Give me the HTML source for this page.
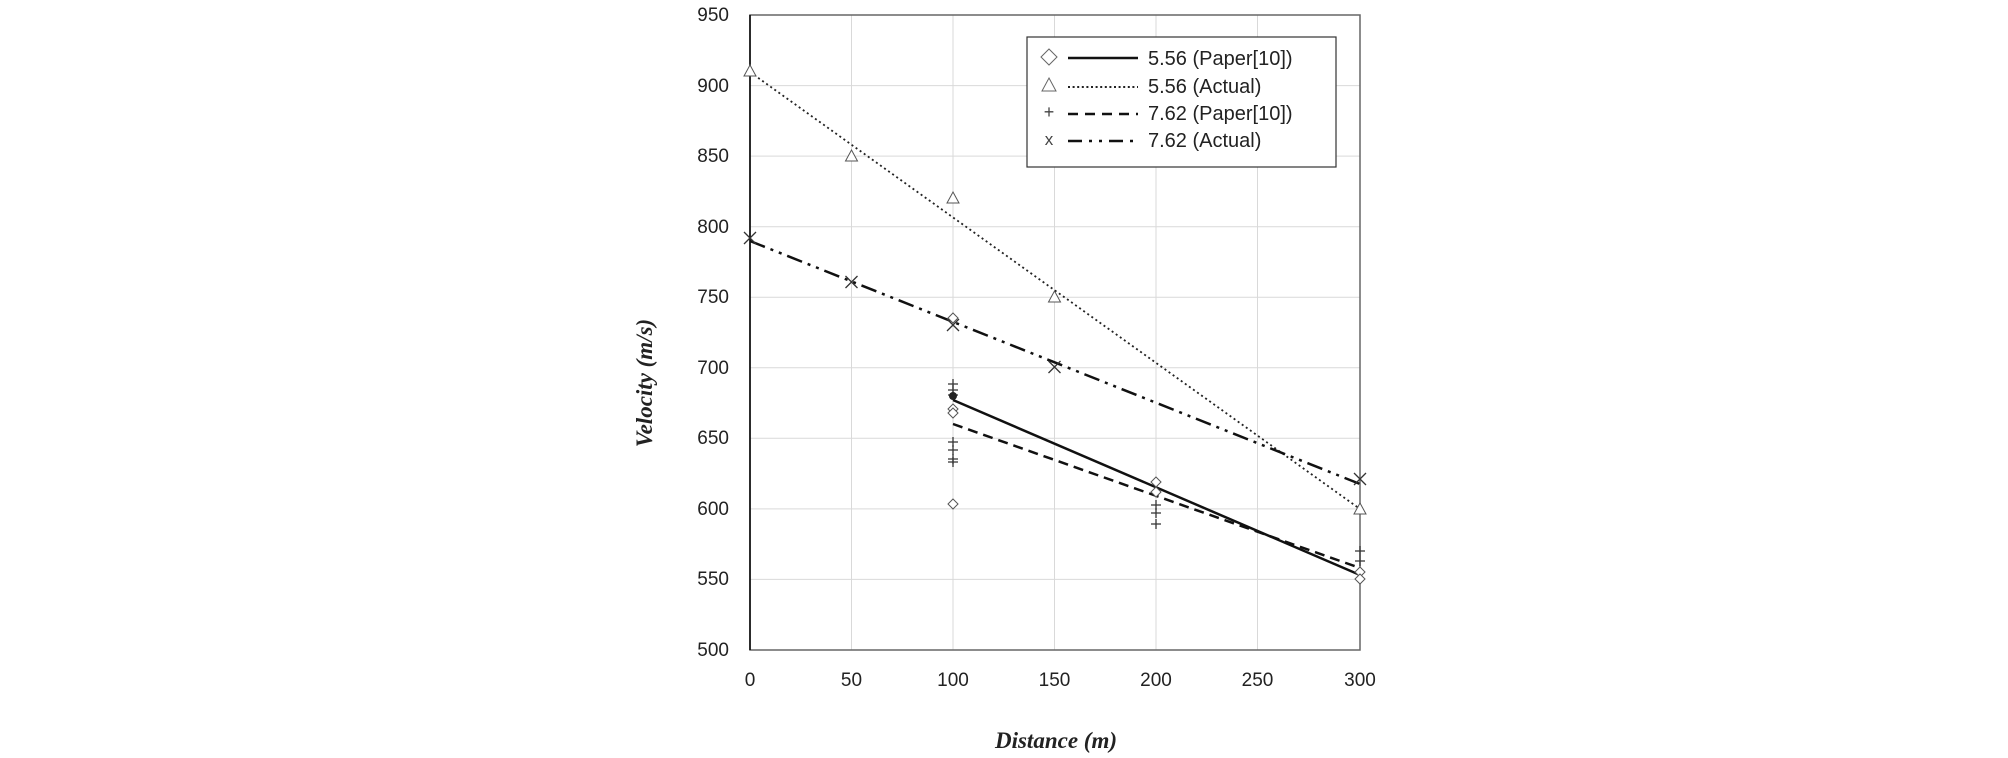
<!DOCTYPE html>
<html><head><meta charset="utf-8"><style>
html,body{margin:0;padding:0;background:#fff;}
svg{display:block;}
text{font-family:"Liberation Sans",sans-serif;fill:#222;}
</style></head><body>
<svg width="2008" height="758" viewBox="0 0 2008 758" xmlns="http://www.w3.org/2000/svg">
<defs>
<g id="dia"><path d="M0,-5 L5,0 L0,5 L-5,0 Z" fill="#fff" stroke="#555" stroke-width="1"/></g>
<g id="tri"><path d="M0,-6 L6,5 L-6,5 Z" fill="#fff" stroke="#555" stroke-width="1"/></g>
<g id="pl"><path d="M-5,0 H5 M0,-5 V5" stroke="#333" stroke-width="1.3"/></g>
<g id="xx"><path d="M-6,-6 L6,6 M-6,6 L6,-6" stroke="#333" stroke-width="1.3"/></g>
</defs>
<g stroke="#d9d9d9" stroke-width="1">
<line x1="851.5" y1="15" x2="851.5" y2="650"/><line x1="953" y1="15" x2="953" y2="650"/>
<line x1="1054.5" y1="15" x2="1054.5" y2="650"/><line x1="1156" y1="15" x2="1156" y2="650"/>
<line x1="1257.5" y1="15" x2="1257.5" y2="650"/>
<line x1="750" y1="85.6" x2="1360" y2="85.6"/><line x1="750" y1="156.1" x2="1360" y2="156.1"/>
<line x1="750" y1="226.7" x2="1360" y2="226.7"/><line x1="750" y1="297.2" x2="1360" y2="297.2"/>
<line x1="750" y1="367.8" x2="1360" y2="367.8"/><line x1="750" y1="438.3" x2="1360" y2="438.3"/>
<line x1="750" y1="508.9" x2="1360" y2="508.9"/><line x1="750" y1="579.4" x2="1360" y2="579.4"/>
</g>
<rect x="750" y="15" width="610" height="635" fill="none" stroke="#666" stroke-width="1.5"/>
<line x1="750" y1="15" x2="750" y2="650" stroke="#000" stroke-width="1.5"/>
<g font-size="19" text-anchor="end">
<text x="729" y="21">950</text><text x="729" y="92">900</text><text x="729" y="162">850</text>
<text x="729" y="233">800</text><text x="729" y="303">750</text><text x="729" y="374">700</text>
<text x="729" y="444">650</text><text x="729" y="515">600</text><text x="729" y="585">550</text>
<text x="729" y="656">500</text>
</g>
<g font-size="19" text-anchor="middle">
<text x="750" y="686">0</text><text x="851.5" y="686">50</text><text x="953" y="686">100</text>
<text x="1054.5" y="686">150</text><text x="1156" y="686">200</text><text x="1257.5" y="686">250</text>
<text x="1360" y="686">300</text>
</g>
<text x="1056" y="748" font-size="23" text-anchor="middle" font-style="italic" font-weight="bold" style="font-family:'Liberation Serif',serif">Distance (m)</text>
<text transform="translate(652,383) rotate(-90)" font-size="23" text-anchor="middle" font-style="italic" font-weight="bold" style="font-family:'Liberation Serif',serif">Velocity (m/s)</text>
<line x1="750" y1="72" x2="1360" y2="509" stroke="#222" stroke-width="1.8" stroke-dasharray="2,3"/>
<line x1="750" y1="241" x2="1360" y2="484" stroke="#111" stroke-width="2.5" stroke-dasharray="16,6,3,6,3,6"/>
<line x1="953" y1="400" x2="1360" y2="575" stroke="#111" stroke-width="2.5"/>
<line x1="953" y1="424" x2="1360" y2="568" stroke="#111" stroke-width="2.5" stroke-dasharray="10,6"/>
<use href="#tri" x="750" y="71"/><use href="#tri" x="851.5" y="156"/><use href="#tri" x="953" y="198"/>
<use href="#tri" x="1054.5" y="297"/><use href="#tri" x="1360" y="509"/>
<use href="#xx" x="750" y="238"/><use href="#xx" x="851.5" y="282"/><use href="#xx" x="953" y="325"/>
<use href="#xx" x="1054.5" y="367"/><use href="#xx" x="1360" y="479"/>
<use href="#dia" x="953" y="318"/><use href="#dia" x="953" y="409"/><use href="#dia" x="953" y="413"/>
<use href="#dia" x="953" y="504"/><use href="#dia" x="1156" y="482"/><use href="#dia" x="1156" y="492"/>
<use href="#dia" x="1360" y="572"/><use href="#dia" x="1360" y="579"/>
<use href="#pl" x="953" y="384"/><use href="#pl" x="953" y="390"/><use href="#pl" x="953" y="395"/>
<use href="#pl" x="953" y="442"/><use href="#pl" x="953" y="450"/><use href="#pl" x="953" y="459"/>
<use href="#pl" x="953" y="462"/><use href="#pl" x="1156" y="505"/><use href="#pl" x="1156" y="513"/>
<use href="#pl" x="1156" y="524"/><use href="#pl" x="1360" y="551"/><use href="#pl" x="1360" y="561"/>
<circle cx="953" cy="396" r="4" fill="#222"/>
<rect x="1027" y="37" width="309" height="130" fill="#fff" stroke="#333" stroke-width="1.2"/>
<path d="M1049,49 L1057,57 L1049,65 L1041,57 Z" fill="#fff" stroke="#666" stroke-width="1"/>
<path d="M1049,78 L1056,91 L1042,91 Z" fill="#fff" stroke="#666" stroke-width="1"/>
<text x="1049" y="118" font-size="18" text-anchor="middle" style="fill:#444">+</text>
<text x="1049" y="145" font-size="17" text-anchor="middle" style="fill:#444">x</text>
<line x1="1068" y1="58" x2="1138" y2="58" stroke="#111" stroke-width="2.5"/>
<line x1="1068" y1="87" x2="1138" y2="87" stroke="#222" stroke-width="2" stroke-dasharray="2,2.6"/>
<line x1="1068" y1="114" x2="1138" y2="114" stroke="#111" stroke-width="2.5" stroke-dasharray="10,7"/>
<line x1="1068" y1="141" x2="1138" y2="141" stroke="#111" stroke-width="2.5" stroke-dasharray="14,7,3,7,3,7"/>
<g font-size="20">
<text x="1148" y="65">5.56 (Paper[10])</text>
<text x="1148" y="93">5.56 (Actual)</text>
<text x="1148" y="120">7.62 (Paper[10])</text>
<text x="1148" y="147">7.62 (Actual)</text>
</g>
</svg>
</body></html>
